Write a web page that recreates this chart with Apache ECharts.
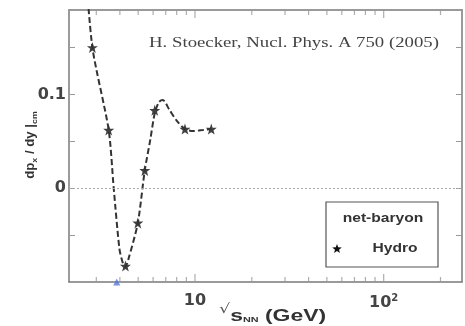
<!DOCTYPE html>
<html><head><meta charset="utf-8">
<script src="https://cdn.jsdelivr.net/npm/echarts@6/dist/echarts.min.js"></script>
<style>html,body{margin:0;padding:0;background:#fff}#c{width:465px;height:326px}</style>
</head><body><div id="c"></div>
<script>
// Hydro calculation points (sqrt(sNN) in GeV, dp_x/dy)
const hydroX = [2.86, 3.49, 4.28, 4.98, 5.42, 6.12, 8.85, 12.2];
const hydroY = [0.150, 0.062, -0.083, -0.037, 0.019, 0.083, 0.063, 0.063];
// dashed curve
const curveX = [2.62, 2.86, 3.49, 3.71, 3.98, 4.15, 4.27, 4.45, 4.98, 5.42, 5.8, 6.12, 6.45, 6.76, 7.3, 8.0, 8.85, 9.8, 11.0, 12.2];
const curveY = [0.240, 0.150, 0.062, 0.0, -0.065, -0.080, -0.084, -0.075, -0.037, 0.019, 0.052, 0.080, 0.092, 0.094, 0.084, 0.072, 0.063, 0.061, 0.062, 0.063];
const minorTicks = [3,4,5,6,7,8,9,20,30,40,50,60,70,80,90,200];
const majorTicks = [10, 100];
const xLabels = [10, 100];
const markerX = [3.85];
const markerY = [-0.1];
const X_MIN = 2.15, X_MAX = 260, Y_MIN = -0.1, Y_MAX = 0.19;

const star = 'path://M0,-10 L2.35,-3.24 L9.51,-3.09 L3.8,1.24 L5.88,8.09 L0,4 L-5.88,8.09 L-3.8,1.24 L-9.51,-3.09 L-2.35,-3.24 Z';
function starPoints(cx, cy, r){
  const pts=[];
  for(let i=0;i<10;i++){const a=-Math.PI/2+i*Math.PI/5; const rr=i%2?r*0.42:r; pts.push([cx+rr*Math.cos(a), cy+rr*Math.sin(a)]);}
  return pts;
}
const axisCol = '#7a7a7a';
const chart = echarts.init(document.getElementById('c'), null, {renderer:'canvas'});
const lbl = {color:'#444', fontFamily:'DejaVu Sans', fontWeight:'bold', fontSize:16};
const xBase = {type:'log', min:X_MIN, max:X_MAX, logBase:10,
  axisLine:{show:true, onZero:false, lineStyle:{color:axisCol, width:1.5}},
  axisTick:{show:false}, splitLine:{show:false}};
function tickSeries(vals, y, len){
  return {type:'scatter', silent:true, clip:false, z:1, symbol:'rect', symbolSize:[1.2,len],
    symbolOffset:[0, y===Y_MIN ? -len/2 : len/2],
    data:vals.map(v=>[v,y]), itemStyle:{color:'#999'}};
}
chart.setOption({
  animation:false,
  grid:{left:69, top:10, right:3, bottom:44, show:false},
  xAxis:[
    Object.assign({}, xBase, {position:'bottom',
      axisLabel:Object.assign({show:true, customValues:xLabels, margin:11,
        formatter:v=> v===10 ? '10' : '10{s|2}',
        rich:{s:{fontSize:10, verticalAlign:'top', color:'#444', fontWeight:'bold', fontFamily:'DejaVu Sans', padding:[0,0,9,0]}}}, lbl)}),
    Object.assign({}, xBase, {position:'top', axisLabel:{show:false}})
  ],
  yAxis:[
    {type:'value', min:Y_MIN, max:Y_MAX, interval:0.05, position:'left',
      axisLine:{show:true, onZero:false, lineStyle:{color:axisCol, width:1.5}},
      axisTick:{show:true, inside:true, length:6, lineStyle:{color:'#999'}},
      splitLine:{show:false},
      axisLabel:Object.assign({margin:3,
        formatter:v=> Math.abs(v-0.1)<1e-9 ? '0.1' : (Math.abs(v)<1e-9 ? '0' : '')}, lbl)},
    {type:'value', min:Y_MIN, max:Y_MAX, interval:0.05, position:'right',
      axisLine:{show:true, onZero:false, lineStyle:{color:axisCol, width:1.5}},
      axisTick:{show:true, inside:true, length:6, lineStyle:{color:'#999'}},
      splitLine:{show:false}, axisLabel:{show:false}}
  ],
  series:[
    tickSeries(minorTicks, Y_MIN, 5), tickSeries(majorTicks, Y_MIN, 8),
    tickSeries(minorTicks, Y_MAX, 5), tickSeries(majorTicks, Y_MAX, 8),
    {type:'line', data:curveX.map((x,i)=>[x,curveY[i]]), smooth:0.25, showSymbol:false, clip:true,
      lineStyle:{color:'#333', width:2, type:[6,3]},
      markLine:{silent:true, symbol:'none', label:{show:false},
        lineStyle:{color:'#aaa', type:[2,2], width:1.2}, data:[{yAxis:0}]}},
    {type:'scatter', data:hydroX.map((x,i)=>[x,hydroY[i]]), symbol:star, symbolSize:11,
      itemStyle:{color:'#111'}},
    {type:'scatter', data:markerX.map((x,i)=>[x,markerY[i]]), symbol:'triangle', symbolSize:7, clip:false,
      itemStyle:{color:'#5577dd'}}
  ],
  graphic:[
    {type:'text', x:294, y:43, scaleX:1.25, style:{text:'H. Stoecker, Nucl. Phys. A 750 (2005)', x:0, y:0, align:'center', verticalAlign:'middle',
      fill:'#444', font:'15px "Liberation Serif"'}},
    {type:'rect', shape:{x:326, y:202, width:112, height:65}, style:{fill:'#fff', stroke:'#555', lineWidth:1.2}},
    {type:'text', x:383, y:219, scaleX:1.3, style:{text:'net-baryon', x:0, y:0, align:'center', verticalAlign:'middle', fill:'#333', font:'bold 12px "Liberation Sans"'}},
    {type:'text', x:395, y:249, scaleX:1.3, style:{text:'Hydro', x:0, y:0, align:'center', verticalAlign:'middle', fill:'#333', font:'bold 12px "Liberation Sans"'}},
    {type:'polygon', shape:{points:starPoints(337, 249, 5)}, style:{fill:'#111'}},
    {type:'text', x:31, y:145, rotation:Math.PI/2, scaleX:1.1, style:{text:'dp{s|x} / dy |{s|cm}', x:0, y:0, align:'center', verticalAlign:'middle',
      fill:'#333', font:'bold 12px "Liberation Sans"', rich:{s:{font:'bold 8px "Liberation Sans"', fill:'#333', padding:[7,0,0,0]}}}},
    {type:'text', x:219, y:316, scaleX:1.35, style:{x:0, y:0, verticalAlign:'middle',
      text:'{r|√}{b|s}{sub|NN}{b| (GeV)}', rich:{r:{font:'13px "DejaVu Sans"', fill:'#555', padding:[0,0,12,0]}, b:{font:'bold 17px "Liberation Sans"', fill:'#333'}, sub:{font:'bold 8px "Liberation Sans"', fill:'#333', padding:[8,0,0,0]}}}}
  ]
});
</script></body></html>
